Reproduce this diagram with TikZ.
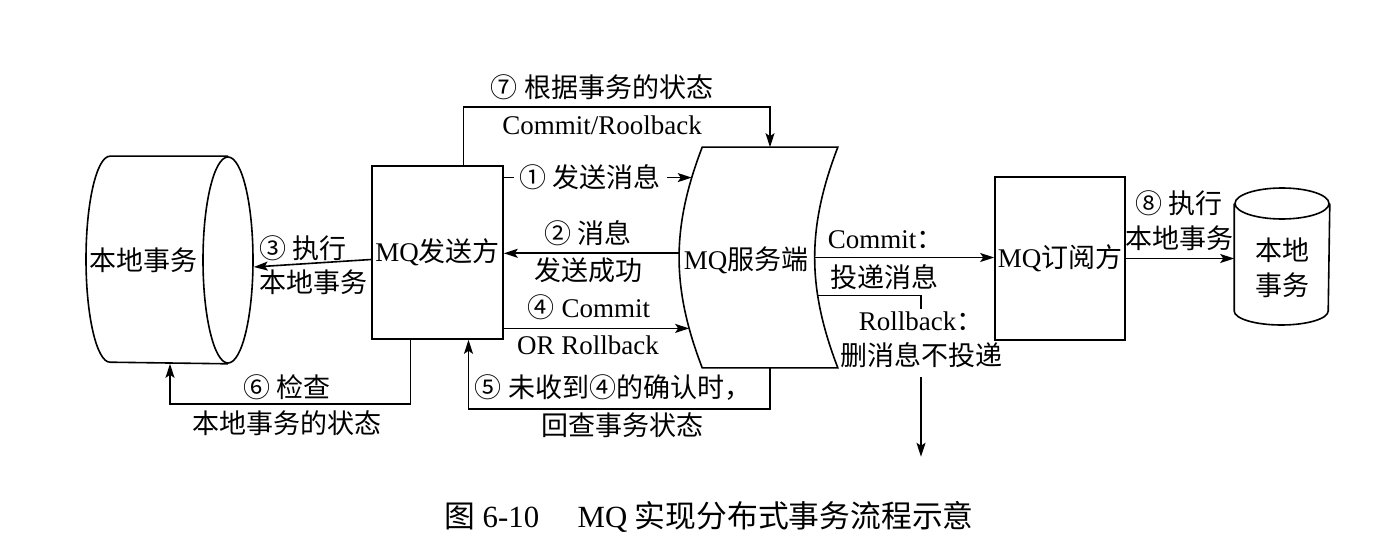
\documentclass[tikz,border=0pt]{standalone}
\usepackage{fontspec}
\setmainfont{Liberation Serif}
\newfontfamily\cjk{Noto Sans CJK SC}
\newcommand{\zh}[1]{{\cjk #1}}
\usetikzlibrary{calc, positioning, arrows.meta, shapes.geometric}

\begin{document}
\begin{tikzpicture}[x=0.5pt, y=0.5pt, line width=0.8pt,
    every node/.style={font=\fontsize{13.5}{17.5}\selectfont, inner sep=1pt},
    box/.style={draw, rectangle},
    arr/.style={-{Stealth[length=7pt, width=4.5pt, inset=1.5pt]}}]
    \useasboundingbox (0,0) rectangle (1376,-556);
    % local transaction, left
    \node[draw, ellipse, minimum width=25pt, minimum height=103pt] (ltxf) at (228,-260) {};
    \draw (ltxf.north) -- ++(-118,0) arc[start angle=90, end angle=270, x radius=24, y radius=103] -- (ltxf.south);
    \node (ltx) at (143,-260) {\zh{本地事务}};
    % sender
    \node[box, minimum width=65.5pt, minimum height=86.5pt] (snd) at (437.5,-252.5) {MQ\zh{发送方}};
    % server
    \node[minimum width=67pt, minimum height=109.5pt] (srv) at (770,-257.5) {};
    \draw (srv.south west) to[bend left=21] coordinate[pos=0.17] (sIn4) coordinate[pos=0.52] (sOut2) coordinate[pos=0.87] (sIn1) (srv.north west)
        -- (srv.north east) to[bend right=21] coordinate[pos=0.5] (sCom) coordinate[pos=0.68] (sRbk) (srv.south east) -- cycle;
    \node (srvt) at (746,-260) {MQ\zh{服务端}};
    % subscriber
    \node[box, minimum width=65pt, minimum height=81.5pt] (sub) at (1060,-258.5) {MQ\zh{订阅方}};
    % local transaction, right
    \node[draw, ellipse, minimum width=47pt, minimum height=15.5pt] (rtxt) at (1282,-203.5) {};
    \draw (rtxt.west) -- ++(0,-107.5) arc[start angle=180, end angle=360, x radius=47, y radius=14] -- (rtxt.east);
    \node[align=center] (rtx) at (1282,-268) {\zh{本地}\\\zh{事务}};
    \node[align=center] (rbk) at (921,-340) {Rollback\zh{：}\\\zh{删消息不投递}};

    % flows
    \draw[arr] (snd.east |- sIn1) -- (sIn1) node[pos=0.46, fill=white, inner xsep=3pt] (l1) {\zh{① 发送消息}};
    \draw[arr] (sOut2) -- (snd.east |- sOut2);
    \draw[arr] ([yshift=-3.5pt]snd.west) -- ([yshift=-3.5pt]ltxf.east);
    \draw[arr] (snd.east |- sIn4) -- (sIn4);
    \draw[arr] (srv.south) -- ++(0,-41) -| ($(snd.south)+(31,0)$);
    \draw[arr] ($(snd.south)+(-27,0)$) -- ++(0,-64) -| ($(ltxf.south)+(-58,0)$);
    \draw[arr] ($(snd.north)+(26,0)$) -- ++(0,58) -| (srv.north);
    \draw[arr] (sCom) -- (sub.west |- sCom);
    \draw (sRbk) -| (rbk.north);
    \draw[arr] ([yshift=-3pt]rbk.south) -- ++(0,-80);
    \draw[arr] (sub.east) -- (sub.east -| rtxt.west);

    % labels
    \foreach \n/\x/\y/\t in {l7a/602/-87/{\zh{⑦ 根据事务的状态}}, l7b/602/-125/{Commit/Roolback},
        l2a/588/-233/{\zh{② 消息}}, l2b/588/-270/{\zh{发送成功}},
        l3a/303/-248/{\zh{③ 执行}}, l3b/313/-282/{\zh{本地事务}},
        l4a/589/-307/{\zh{④} Commit}, l4b/588/-345/{OR Rollback},
        l5a/613/-388/{\zh{⑤ 未收到④的确认时，}}, l5b/622/-425/{\zh{回查事务状态}},
        l6a/287/-387/{\zh{⑥ 检查}}, l6b/287/-423/{\zh{本地事务的状态}},
        l8a/1179/-203/{\zh{⑧ 执行}}, l8b/1179/-238/{\zh{本地事务}}} {
        \node (\n) at (\x,\y) {\t};
    }
    \node[anchor=west] (lca) at (825,-240) {Commit\zh{：}};
    \node[anchor=west] (lcb) at (828,-277) {\zh{投递消息}};

    \node[font=\fontsize{15.4}{18}\selectfont] (cap) at (709,-517) {\zh{图} 6-10\hspace{1.25em}MQ \zh{实现分布式事务流程示意}};
\end{tikzpicture}
\end{document}
